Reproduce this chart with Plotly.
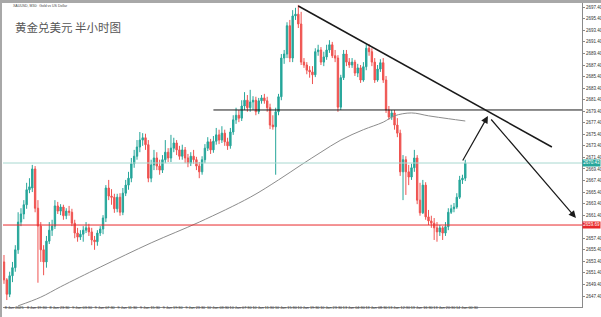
import plotly.graph_objects as go

# ---------------- data (XAUUSD M30) ----------------
opens = [2653.3,2650.2,2647.7,2650.9,2652.3,2655.4,2660.2,2661.6,2663.2,2665.8,
2666.1,2669.4,2662.6,2659.5,2655.4,2653.3,2656.9,2658.8,2659.5,2663.0,
2662.1,2662.8,2661.3,2662.1,2661.9,2660.0,2658.3,2657.6,2658.1,2658.8,
2659.2,2658.5,2657.1,2656.8,2658.3,2659.0,2660.9,2666.1,2664.7,2664.5,
2662.5,2664.5,2661.9,2665.2,2666.6,2667.8,2670.3,2671.6,2673.2,2674.4,
2674.8,2673.6,2667.8,2670.1,2671.3,2669.9,2669.2,2671.0,2672.3,2671.3,
2673.0,2673.9,2672.7,2671.6,2672.7,2671.3,2670.4,2671.6,2671.0,2669.9,
2668.9,2671.0,2673.0,2674.1,2672.7,2674.2,2675.3,2674.4,2675.6,2674.1,
2673.4,2675.8,2677.9,2678.7,2678.2,2680.3,2681.3,2680.0,2681.0,2681.3,
2679.3,2681.2,2681.7,2681.2,2680.0,2677.0,2676.7,2679.3,2681.9,2688.6,
2689.3,2694.2,2688.6,2695.9,2696.2,2694.5,2687.9,2687.4,2686.5,2686.2,
2685.7,2689.7,2690.0,2687.9,2688.8,2690.0,2690.9,2689.0,2688.6,2680.1,
2685.2,2689.3,2687.9,2687.4,2687.9,2686.0,2686.9,2684.8,2687.1,2690.3,
2689.7,2687.9,2684.8,2686.7,2687.8,2684.8,2679.6,2678.4,2679.1,2677.0,
2675.6,2668.9,2671.0,2668.9,2668.0,2669.6,2671.3,2664.0,2661.8,2666.6,
2661.1,2660.4,2660.0,2659.2,2658.5,2659.2,2658.3,2659.4,2661.9,2662.5,
2662.8,2664.5,2667.5,2667.8]
highs = [2654.5,2650.5,2651.6,2653.3,2656.2,2661.9,2662.6,2664.0,2667.0,2667.8,
2670.1,2669.9,2664.0,2660.2,2656.2,2657.8,2660.2,2660.6,2664.0,2663.7,
2663.3,2663.2,2662.6,2663.0,2662.5,2660.6,2659.2,2658.8,2659.5,2660.2,
2659.9,2659.2,2657.8,2658.8,2659.5,2661.4,2666.6,2667.5,2665.9,2665.1,
2665.1,2665.2,2666.1,2667.5,2668.9,2671.3,2672.7,2674.4,2675.8,2675.6,
2675.5,2674.4,2671.0,2672.7,2672.3,2671.0,2671.8,2674.4,2673.0,2675.3,
2674.8,2674.4,2673.4,2673.6,2673.2,2672.0,2672.3,2672.7,2671.5,2670.6,
2671.6,2673.7,2674.9,2674.6,2675.1,2676.5,2676.2,2676.8,2676.2,2674.8,
2676.5,2678.7,2680.0,2679.6,2681.3,2682.7,2682.2,2683.1,2682.0,2681.9,
2681.7,2682.2,2682.4,2681.9,2680.7,2678.7,2680.0,2682.4,2689.3,2690.0,
2694.8,2695.2,2696.9,2697.3,2697.8,2696.6,2688.6,2687.9,2687.2,2687.2,
2690.3,2690.9,2690.5,2689.7,2690.9,2691.7,2691.4,2690.0,2689.1,2685.7,
2690.0,2690.0,2688.6,2688.6,2688.3,2687.6,2687.4,2687.9,2691.0,2691.0,
2690.3,2688.6,2687.4,2688.4,2688.6,2685.5,2680.3,2679.6,2679.6,2678.2,
2676.2,2671.8,2671.6,2670.1,2670.3,2672.7,2671.8,2667.0,2667.5,2667.1,
2662.3,2661.3,2660.9,2660.2,2659.7,2659.5,2660.2,2662.6,2663.2,2663.5,
2665.2,2668.2,2668.4,2671.0]
lows = [2649.5,2646.7,2647.2,2649.8,2651.6,2654.7,2659.5,2660.7,2662.5,2665.2,
2665.4,2661.9,2649.7,2653.3,2651.0,2652.3,2656.4,2657.8,2659.0,2661.6,
2661.4,2660.6,2660.7,2661.3,2659.5,2657.4,2656.8,2657.1,2656.8,2658.3,
2657.8,2656.2,2655.4,2656.1,2657.8,2658.1,2660.2,2664.0,2663.2,2661.8,
2661.9,2661.3,2661.4,2664.7,2665.8,2667.1,2669.6,2671.0,2672.3,2673.4,
2672.7,2667.1,2667.1,2669.2,2669.2,2668.4,2668.7,2670.4,2670.6,2670.6,
2672.3,2671.8,2671.0,2671.0,2670.4,2669.7,2669.9,2670.3,2669.2,2667.8,
2668.4,2670.4,2672.5,2672.0,2672.2,2673.6,2673.7,2673.9,2673.4,2672.7,
2672.9,2675.3,2677.2,2677.5,2677.7,2679.6,2679.3,2679.3,2679.6,2678.7,
2678.9,2680.7,2680.7,2679.3,2676.3,2676.2,2668.4,2678.7,2681.3,2687.6,
2688.6,2687.9,2687.9,2695.2,2693.8,2687.4,2686.9,2685.8,2685.2,2684.1,
2685.3,2689.0,2687.4,2687.2,2688.3,2689.5,2688.6,2687.9,2679.3,2679.6,
2684.8,2687.2,2686.9,2686.9,2685.5,2685.3,2684.3,2684.5,2686.5,2689.0,
2687.2,2684.3,2684.5,2686.2,2684.3,2679.1,2677.9,2677.9,2676.2,2674.9,
2668.2,2664.0,2664.9,2666.6,2667.5,2668.9,2663.3,2661.3,2661.6,2660.6,
2659.7,2659.2,2657.1,2656.8,2657.8,2657.1,2657.8,2658.8,2661.6,2661.9,
2662.5,2664.2,2666.8,2667.3]
closes = [2650.2,2647.7,2650.9,2652.3,2655.4,2660.2,2661.6,2663.2,2665.8,2666.3,
2669.4,2662.6,2659.5,2655.4,2653.3,2656.9,2658.8,2659.5,2663.0,2662.1,
2662.8,2661.3,2662.1,2661.9,2660.0,2658.3,2657.6,2658.1,2658.8,2659.2,
2658.5,2657.1,2656.8,2658.3,2659.0,2660.9,2666.1,2664.7,2664.5,2662.5,
2664.5,2661.9,2665.2,2666.6,2667.8,2670.3,2671.6,2673.2,2674.4,2674.8,
2673.6,2667.8,2670.1,2671.3,2669.9,2669.2,2671.0,2672.3,2671.3,2673.0,
2673.9,2672.7,2671.6,2672.7,2671.3,2670.4,2671.6,2671.0,2669.9,2668.9,
2671.0,2673.0,2674.1,2672.7,2674.2,2675.3,2674.4,2675.6,2674.1,2673.4,
2675.8,2677.9,2678.7,2678.2,2680.3,2681.3,2680.0,2681.0,2681.3,2679.3,
2681.2,2681.7,2681.2,2680.0,2677.0,2676.7,2679.3,2681.9,2688.6,2689.3,
2694.2,2688.6,2695.9,2696.2,2694.5,2687.9,2687.4,2686.5,2686.2,2685.7,
2689.7,2690.0,2687.9,2688.8,2690.0,2690.9,2689.0,2688.6,2680.1,2685.2,
2689.3,2687.9,2687.4,2687.9,2686.0,2686.9,2684.8,2687.1,2690.3,2689.7,
2687.9,2684.8,2686.7,2687.8,2684.8,2679.6,2678.4,2679.1,2677.0,2675.6,
2668.9,2671.0,2668.9,2668.0,2669.6,2671.3,2664.0,2661.8,2666.6,2661.1,
2660.4,2660.0,2659.2,2658.5,2659.2,2658.3,2659.4,2661.9,2662.5,2662.8,
2664.5,2667.5,2667.8,2670.4]
bars = list(range(len(closes)))

ma_bar = [5, 13, 20, 34, 52, 69, 87, 97, 105, 112, 119, 127, 134, 138, 144, 150, 157, 163]
ma_val = [2645.7, 2647.2, 2649.0, 2652.4, 2656.6, 2660.2, 2664.5, 2667.5, 2670.1,
          2672.3, 2674.4, 2676.2, 2677.5, 2678.6, 2679.1, 2678.6, 2678.1, 2677.7]

x_tick_bars = [0, 8, 16, 24, 32, 40, 48, 56, 64, 72, 80, 88, 96, 104, 112, 120, 128, 136, 144, 152, 160]
x_tick_text = ["8 Jan 2025", "8 Jan 19:30", "8 Jan 23:30", "9 Jan 03:30", "9 Jan 07:30",
               "9 Jan 11:30", "9 Jan 15:30", "9 Jan 19:30", "9 Jan 23:30", "10 Jan 03:30",
               "10 Jan 07:30", "10 Jan 11:30", "10 Jan 15:30", "10 Jan 19:30", "10 Jan 23:30",
               "13 Jan 04:30", "13 Jan 08:30", "13 Jan 12:30", "13 Jan 16:30", "13 Jan 20:30",
               "14 Jan 00:30"]
# 2659.40 sits under the red price tag, so it is not printed
y_tick_vals = [2647.4 + 2 * k for k in range(26) if k != 6]

bid_price = 2670.43
support_price = 2659.69
resistance_price = 2679.61
resistance_from_bar = 74
trend_bars = [104, 193.6]
trend_prices = [2697.62, 2673.2]
arrow1_bars = [161.8, 171.0]
arrow1_prices = [2670.6, 2678.57]
arrow2_bars = [171.7, 202.1]
arrow2_prices = [2678.22, 2660.91]

UP = "#26a69a"
DOWN = "#ef5350"

fig = go.Figure()
fig.add_trace(go.Candlestick(
    x=bars, open=opens, high=highs, low=lows, close=closes,
    increasing=dict(line=dict(color=UP, width=1), fillcolor=UP),
    decreasing=dict(line=dict(color=DOWN, width=1), fillcolor=DOWN),
    whiskerwidth=0, showlegend=False, hoverinfo="skip"))
fig.add_trace(go.Scatter(x=ma_bar, y=ma_val, mode="lines",
                         line=dict(color="#8c8c8c", width=1, shape="spline"),
                         showlegend=False, hoverinfo="skip"))

shapes = []
shapes.append(dict(type="line", xref="paper", yref="y", x0=0, x1=1, y0=bid_price, y1=bid_price,
                   line=dict(color="#a8d8d0", width=1)))
shapes.append(dict(type="line", xref="paper", yref="y", x0=0, x1=1, y0=support_price, y1=support_price,
                   line=dict(color="#e8282b", width=1)))
shapes.append(dict(type="line", xref="x", yref="y", x0=resistance_from_bar, x1=204.3,
                   y0=resistance_price, y1=resistance_price, line=dict(color="#1a1a1a", width=1)))
shapes.append(dict(type="line", xref="x", yref="y", x0=trend_bars[0], x1=trend_bars[1],
                   y0=trend_prices[0], y1=trend_prices[1], line=dict(color="#1a1a1a", width=1.5)))
# window borders
shapes.append(dict(type="rect", xref="paper", yref="paper", x0=-3/579, x1=-1/579, y0=-0.05, y1=1.01,
                   line=dict(width=0), fillcolor="#a8a8a8"))
shapes.append(dict(type="rect", xref="paper", yref="paper", x0=-3/579, x1=1.04, y0=1.0, y1=1+3/304,
                   line=dict(width=0), fillcolor="#a8a8a8"))

annotations = []
annotations.append(dict(x=arrow1_bars[1], y=arrow1_prices[1], ax=arrow1_bars[0], ay=arrow1_prices[0],
                        xref="x", yref="y", axref="x", ayref="y", text="", showarrow=True,
                        arrowhead=2, arrowsize=1.2, arrowwidth=1.2, arrowcolor="#1a1a1a"))
annotations.append(dict(x=arrow2_bars[1], y=arrow2_prices[1], ax=arrow2_bars[0], ay=arrow2_prices[0],
                        xref="x", yref="y", axref="x", ayref="y", text="", showarrow=True,
                        arrowhead=2, arrowsize=1.2, arrowwidth=1.2, arrowcolor="#1a1a1a"))
annotations.append(dict(xref="paper", yref="y", x=1.0, y=bid_price, xanchor="left", yanchor="middle",
                        text=f"{bid_price:.2f}", showarrow=False, bgcolor="#26a69a",
                        font=dict(size=4.5, color="white", family="Arial"), borderpad=0.3))
annotations.append(dict(xref="paper", yref="y", x=1.0, y=support_price, xanchor="left", yanchor="middle",
                        text=f"{support_price:.2f}", showarrow=False, bgcolor="#e8282b",
                        font=dict(size=4.5, color="white", family="Arial"), borderpad=0.3))
annotations.append(dict(xref="paper", yref="paper", x=10/579, y=1 - 24/304, xanchor="left", yanchor="middle",
                        text="黄金兑美元 半小时图", showarrow=False,
                        font=dict(size=11.5, color="#555555", family="Noto Sans CJK SC")))
annotations.append(dict(xref="paper", yref="paper", x=8/579, y=1 - 3/304, xanchor="left", yanchor="middle",
                        text="XAUUSD, M30:  Gold vs US Dollar", showarrow=False,
                        font=dict(size=3.5, color="#444444", family="Arial")))

fig.update_layout(
    width=601, height=317,
    margin=dict(l=3, r=19, t=3, b=10, autoexpand=False),
    paper_bgcolor="white", plot_bgcolor="white",
    shapes=shapes, annotations=annotations,
    xaxis=dict(range=[-0.35, 204.24], rangeslider=dict(visible=False), showgrid=False, zeroline=False,
               automargin=False, tickangle=0,
               tickmode="array", tickvals=[b + 3.6 for b in x_tick_bars], ticktext=x_tick_text,
               tickfont=dict(size=3.8, color="#333333", family="Arial"), ticks="",
               showline=True, linecolor="#8a8a8a", linewidth=1, ticklabelstandoff=-4),
    yaxis=dict(range=[2645.495, 2698.135], side="right", showgrid=False, zeroline=False,
               automargin=False,
               tickmode="array", tickvals=y_tick_vals, ticktext=[f"{v:.2f}" for v in y_tick_vals],
               tickfont=dict(size=4.5, color="#333333", family="Arial"), ticks="outside", ticklen=2,
               tickcolor="#8a8a8a", showline=True, linecolor="#8a8a8a", linewidth=1),
    font=dict(family="Arial"),
)

fig.write_html("out.html")
